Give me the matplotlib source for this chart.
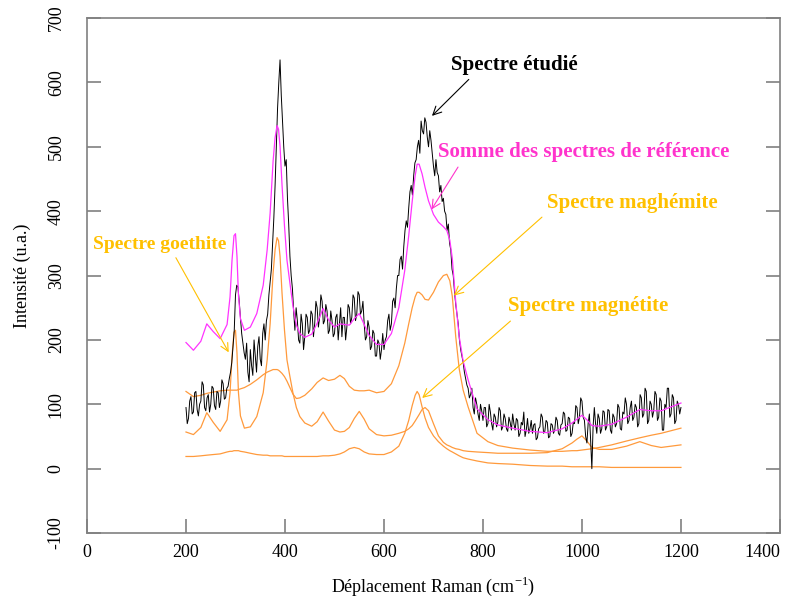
import matplotlib
matplotlib.use('Agg')
import matplotlib.pyplot as plt
import numpy as np

plt.rcParams['font.family'] = ['Liberation Serif', 'DejaVu Serif']
plt.rcParams['mathtext.fontset'] = 'custom'
plt.rcParams['mathtext.rm'] = 'Liberation Serif'
plt.rcParams['axes.unicode_minus'] = False

# measured spectrum, one point every 2.5 cm-1 from 200 to 1200
x_meas = np.arange(0, 401) * 2.5 + 200
y_meas = [
    95, 70, 78, 105, 112, 85, 88, 118, 120, 92, 82, 100, 105, 135, 130, 95, 90, 110, 115, 88,            # 200
    100, 128, 125, 98, 92, 120, 118, 95, 105, 138, 132, 108, 110, 125, 128, 140, 150, 165, 190, 215,      # 250
    270, 285, 282, 260, 235, 210, 195, 180, 170, 195, 150, 135, 185, 160, 145, 200, 175, 150, 190, 205,   # 300
    170, 160, 210, 225, 200, 230, 240, 270, 290, 310, 350, 390, 440, 500, 560, 600, 635, 580, 540, 500,   # 350
    470, 480, 420, 380, 330, 300, 280, 245, 215, 250, 230, 200, 195, 240, 225, 185, 205, 240, 235, 210,   # 400
    215, 245, 240, 205, 225, 260, 250, 220, 235, 270, 260, 225, 230, 255, 245, 210, 215, 245, 230, 205,   # 450
    210, 235, 240, 200, 225, 250, 205, 235, 235, 200, 220, 255, 250, 225, 235, 270, 265, 230, 240, 275,   # 500
    270, 240, 245, 260, 225, 200, 205, 230, 220, 185, 190, 215, 210, 175, 175, 200, 195, 170, 185, 210,   # 550
    185, 200, 205, 230, 240, 215, 225, 260, 265, 250, 280, 300, 300, 325, 330, 310, 345, 370, 385, 375,   # 600
    405, 430, 440, 425, 455, 475, 480, 500, 510, 490, 540, 525, 520, 545, 538, 515, 500, 525, 510, 490,   # 650
    470, 455, 480, 460, 455, 430, 440, 415, 420, 400, 395, 370, 380, 350, 340, 310, 300, 275, 255, 240,   # 700
    225, 200, 185, 175, 165, 150, 140, 130, 125, 110, 115, 125, 95, 85, 110, 100, 85, 75, 100, 90,        # 750
    75, 95, 95, 65, 70, 100, 88, 70, 60, 85, 80, 65, 72, 95, 90, 60, 65, 85, 78, 62,                      # 800
    58, 80, 72, 60, 85, 70, 60, 78, 75, 50, 55, 72, 68, 88, 50, 60, 78, 55, 62, 75,                       # 850
    55, 68, 70, 45, 48, 62, 65, 85, 80, 55, 58, 75, 72, 48, 50, 70, 68, 55, 60, 80,                       # 900
    75, 55, 52, 68, 70, 88, 85, 58, 60, 80, 78, 50, 55, 72, 70, 98, 95, 70, 80, 110,                      # 950
    105, 80, 75, 50, 40, 70, 85, 45, 0, 65, 95, 70, 55, 85, 78, 55, 62, 90, 88, 60,                       # 1000
    65, 92, 90, 60, 55, 85, 80, 65, 70, 100, 95, 62, 60, 88, 85, 110, 100, 70, 75, 95,                    # 1050
    105, 75, 80, 100, 95, 65, 70, 115, 110, 80, 85, 125, 120, 70, 75, 105, 100, 80, 90, 120,              # 1100
    115, 75, 80, 110, 105, 60, 60, 100, 95, 125, 125, 80, 85, 115, 110, 70, 75, 105, 100, 85,             # 1150
    95]                                                                                                   # 1200

# reference spectra on a common grid
x_ref = [200, 215, 230, 242, 255, 269, 283, 289, 293, 297,
         300, 303, 306, 310, 318, 330, 343, 356, 364, 370,
         376, 380, 384, 387, 390, 394, 399, 404, 410, 416,
         423, 430, 440, 454, 465, 477, 488, 500, 511, 520,
         530, 540, 550, 560, 570, 585, 600, 615, 630, 642,
         650, 657, 663, 667, 671, 677, 683, 690, 700, 710,
         720, 727, 733, 738, 745, 752, 760, 770, 788, 810,
         830, 860, 895, 930, 960, 980, 990, 1000, 1010, 1020,
         1035, 1060, 1090, 1117, 1140, 1160, 1180, 1200]

maghemite = [120, 112, 114, 117, 119, 121, 122, 122, 122, 122,
             122, 122, 123, 124, 126, 131, 138, 146, 150, 152,
             154, 154, 154, 153, 151, 148, 143, 136, 126, 116,
             109, 110, 114, 124, 134, 141, 137, 139, 145, 140,
             128, 122, 121, 121, 122, 118, 120, 132, 160, 195,
             225, 250, 267, 274, 274, 270, 263, 262, 274, 290,
             300, 302, 292, 268, 205, 155, 122, 96, 55, 42,
             36, 32, 29, 27, 27, 28, 28, 29, 30, 31,
             33, 37, 43, 48, 52, 55, 59, 63]

magnetite = [19, 19, 20, 21, 22, 23, 26, 27, 27, 28,
             28, 28, 28, 27, 26, 24, 22, 21, 21, 20,
             20, 20, 20, 20, 20, 20, 19, 19, 19, 19,
             19, 19, 19, 19, 19, 20, 20, 21, 23, 26,
             31, 33, 31, 26, 23, 22, 22, 26, 35, 55,
             75, 98, 114, 120, 115, 96, 79, 64, 51, 42,
             35, 31, 28, 26, 23, 20, 17, 15, 12, 9,
             8, 7, 5, 4, 4, 3, 3, 3, 3, 3,
             3, 2, 2, 2, 2, 2, 2, 2]

goethite = [57, 53, 64, 87, 72, 58, 76, 118, 175, 212,
            215, 180, 118, 82, 63, 65, 81, 118, 169, 225,
            304, 340, 359, 354, 330, 273, 215, 169, 143, 118,
            95, 81, 71, 66, 73, 88, 74, 60, 57, 58,
            64, 78, 89, 77, 62, 53, 51, 52, 55, 58,
            62, 67, 74, 79, 84, 92, 95, 90, 70, 51,
            41, 37, 35, 33, 31, 30, 28, 27, 26, 25,
            24, 24, 24, 25, 31, 40, 46, 51, 43, 33,
            30, 30, 35, 42, 36, 33, 35, 37]

somme = np.array(maghemite) + np.array(magnetite) + np.array(goethite)

orange = '#FF9A3C'
label_orange = '#FFC000'
pink = '#FF33CC'

fig = plt.figure(figsize=(7.91, 6.01), dpi=100)
ax = fig.add_axes([0.110, 0.113, 0.876, 0.857])

ax.plot(x_ref, goethite, color=orange, lw=0.9)
ax.plot(x_ref, maghemite, color=orange, lw=0.9)
ax.plot(x_ref, magnetite, color=orange, lw=0.9)
ax.plot(x_meas, y_meas, color='black', lw=0.7)
ax.plot(x_ref, somme, color='#FF33FF', lw=0.9)

ax.set_xlim(0, 1400)
ax.set_ylim(-100, 700)
ax.set_xticks(range(0, 1401, 200))
ax.set_yticks(range(-100, 701, 100))

for s in ax.spines.values():
    s.set_color('#808080')
    s.set_linewidth(1.2)
ax.tick_params(direction='in', length=10, width=1.2, color='#808080', labelsize=13,
               right=True, top=False)
ax.tick_params(axis='x', pad=8)
ax.tick_params(axis='y', pad=16)
for t in ax.get_yticklabels():
    t.set_rotation(90)
    t.set_va('center')
ax.get_xticklabels()[-1].set_ha('right')
ax.get_xticklabels()[-1].set_x(1412)

ax.set_xlabel('Déplacement Raman (cm$^{\\mathregular{-1}}$)', fontsize=13, labelpad=10)
ax.set_ylabel('Intensité (u.a.)', fontsize=13, labelpad=12)

ax.annotate('Spectre étudié', xy=(693, 545), xytext=(735, 612), color='black',
            fontsize=15, fontweight='bold', ha='left', va='bottom',
            arrowprops=dict(arrowstyle='->', color='black', lw=0.8, relpos=(0.18, 0)))
ax.annotate('Somme des spectres de référence', xy=(693, 399), xytext=(709, 492),
            color=pink, fontsize=15, fontweight='bold', ha='left', va='center',
            arrowprops=dict(arrowstyle='->', color=pink, lw=0.8, relpos=(0.08, 0)))
ax.annotate('Spectre maghémite', xy=(737, 266), xytext=(929, 413),
            color=label_orange, fontsize=15, fontweight='bold', ha='left', va='center',
            arrowprops=dict(arrowstyle='->', color=label_orange, lw=0.8, relpos=(0, 0)))
ax.annotate('Spectre magnétite', xy=(673, 107), xytext=(850, 252),
            color=label_orange, fontsize=15, fontweight='bold', ha='left', va='center',
            arrowprops=dict(arrowstyle='->', color=label_orange, lw=0.8, relpos=(0.05, 0)))
ax.annotate('Spectre goethite', xy=(289, 177), xytext=(12, 349),
            color=label_orange, fontsize=14, fontweight='bold', ha='left', va='center',
            arrowprops=dict(arrowstyle='->', color=label_orange, lw=0.8, relpos=(0.6, 0)))

fig.savefig('out.png', dpi=100)
